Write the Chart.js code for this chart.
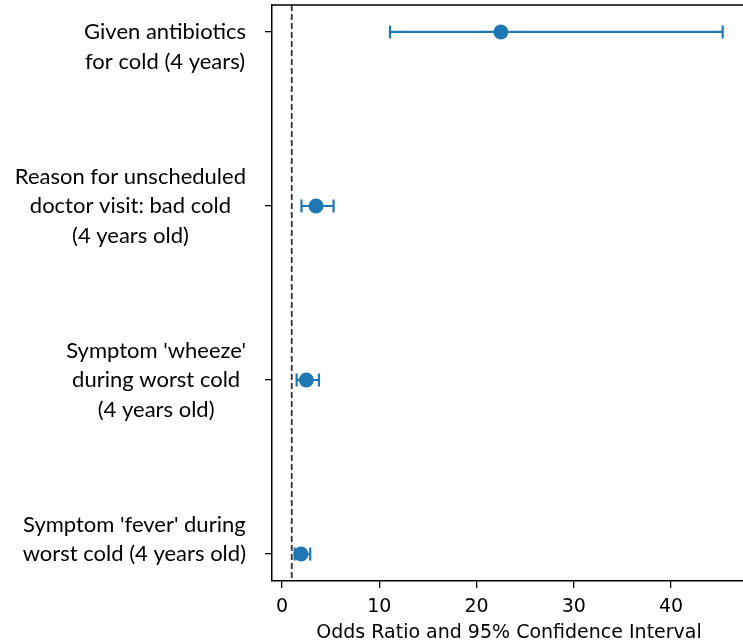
<!DOCTYPE html>
<html>
<head>
<meta charset="utf-8">
<title>Odds ratios</title>
<script src="https://cdn.jsdelivr.net/npm/chart.js@4.4.1/dist/chart.umd.min.js"></script>
<style>
  html, body { margin: 0; padding: 0; background: #fff; overflow: hidden; }
</style>
</head>
<body>
<canvas id="forestChart" width="746" height="644"></canvas>
<script>
// Outcomes (top to bottom) with odds ratio and 95% CI
const outcomes = [
  ['Given antibiotics', 'for cold (4 years)'],
  ['Reason for unscheduled', 'doctor visit: bad cold', '(4 years old)'],
  ["Symptom 'wheeze'", 'during worst cold', '(4 years old)'],
  ["Symptom 'fever' during", 'worst cold (4 years old)']
];
const oddsRatios = [22.5, 3.5, 2.5, 1.95];
const ciLower = [11.1, 2.0, 1.5, 1.3];
const ciUpper = [45.3, 5.3, 3.8, 2.9];
const xTicks = [0, 10, 20, 30, 40];
const nullValue = 1;

const BLUE = '#1f77b4';
const X_MIN = -1.03;
const X_MAX = 47.7;
const Y_PAD = 0.155;

// which line of each label sits level with its tick
const labelAnchorLine = [0, 1, 1, 1];
const LABEL_FONT = '22px Lato';
const LABEL_LINE_HEIGHT = 29.5;
const AXIS_FONT = { family: 'DejaVu Sans', size: 19 };

// top spine (left / bottom come from the axis borders)
const frameTop = {
  id: 'frameTop',
  afterDraw(chart) {
    const { ctx, chartArea } = chart;
    ctx.save();
    ctx.strokeStyle = '#000';
    ctx.lineWidth = 1.5;
    ctx.beginPath();
    ctx.moveTo(chartArea.left, chartArea.top);
    ctx.lineTo(chartArea.right, chartArea.top);
    ctx.stroke();
    ctx.restore();
  }
};

// multi-line y labels: block right-aligned, lines centred inside the block
const outcomeLabels = {
  id: 'outcomeLabels',
  afterDraw(chart) {
    const { ctx } = chart;
    const y = chart.scales.y;
    const right = y.right - 26;
    ctx.save();
    ctx.font = LABEL_FONT;
    ctx.fillStyle = '#000';
    ctx.textAlign = 'center';
    ctx.textBaseline = 'middle';
    outcomes.forEach((lines, i) => {
      const widest = Math.max(...lines.map(l => ctx.measureText(l).width));
      const cx = right - widest / 2;
      const y0 = y.getPixelForValue(i) - labelAnchorLine[i] * LABEL_LINE_HEIGHT;
      lines.forEach((line, k) => ctx.fillText(line, cx, y0 + k * LABEL_LINE_HEIGHT));
    });
    ctx.restore();
  }
};

const yMin = -Y_PAD;
const yMax = outcomes.length - 1 + Y_PAD;

const errorBars = outcomes.map((_, i) => ({
  type: 'line',
  data: [{ x: ciLower[i], y: i }, { x: ciUpper[i], y: i }],
  showLine: true,
  borderColor: BLUE,
  borderWidth: 2.2,
  pointStyle: 'line',
  rotation: 90,
  pointRadius: 6.5,
  pointBorderWidth: 2.2,
  pointBorderColor: BLUE
}));

new Chart(document.getElementById('forestChart'), {
  type: 'scatter',
  data: {
    datasets: [
      {
        type: 'line',
        data: [{ x: nullValue, y: yMin }, { x: nullValue, y: yMax }],
        showLine: true,
        borderColor: '#333',
        borderWidth: 1.8,
        borderDash: [6, 3],
        pointRadius: 0
      },
      ...errorBars,
      {
        data: oddsRatios.map((v, i) => ({ x: v, y: i })),
        pointRadius: 7.5,
        backgroundColor: BLUE,
        borderWidth: 0
      }
    ]
  },
  options: {
    responsive: false,
    animation: false,
    devicePixelRatio: 1,
    layout: { autoPadding: false, padding: { top: 5, left: 0, right: 0, bottom: 0 } },
    plugins: { legend: { display: false }, tooltip: { enabled: false } },
    scales: {
      x: {
        type: 'linear',
        min: X_MIN,
        max: X_MAX,
        afterBuildTicks: s => { s.ticks = xTicks.map(v => ({ value: v })); },
        afterFit: s => { s.height = 63; },
        ticks: { color: '#000', font: AXIS_FONT, padding: 8 },
        grid: { drawOnChartArea: false, tickLength: 7, color: '#000', lineWidth: 1.3 },
        border: { display: true, color: '#000', width: 1.5 },
        title: {
          display: true,
          text: 'Odds Ratio and 95% Confidence Interval',
          color: '#000',
          font: AXIS_FONT,
          padding: { top: 2, bottom: 0 }
        }
      },
      y: {
        type: 'linear',
        reverse: true,
        min: yMin,
        max: yMax,
        afterBuildTicks: s => { s.ticks = outcomes.map((_, i) => ({ value: i })); },
        afterFit: s => { s.width = 272; },
        ticks: { display: false },
        grid: { drawOnChartArea: false, tickLength: 7, color: '#000', lineWidth: 1.3 },
        border: { display: true, color: '#000', width: 1.5 }
      }
    }
  },
  plugins: [frameTop, outcomeLabels]
});
</script>
</body>
</html>
